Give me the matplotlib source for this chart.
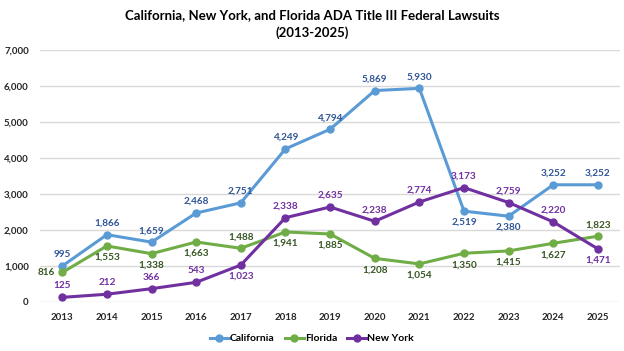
import matplotlib
matplotlib.use("Agg")
import matplotlib.pyplot as plt
from matplotlib.ticker import FuncFormatter

plt.rcParams['font.family'] = ['Lato', 'DejaVu Sans']
plt.rcParams['font.weight'] = 'bold'

years = list(range(2013, 2026))
california = [995, 1866, 1659, 2468, 2751, 4249, 4794, 5869, 5930, 2519, 2380, 3252, 3252]
florida = [816, 1553, 1338, 1663, 1488, 1941, 1885, 1208, 1054, 1350, 1415, 1627, 1823]
new_york = [125, 212, 366, 543, 1023, 2338, 2635, 2238, 2774, 3173, 2759, 2220, 1471]

# label placement per point (a = above, b = below, l = left)
ca_pos = list("aaaaaaaaabbaa")
fl_pos = list("lbbbabbbbbbba")
ny_pos = list("aaaabaaaaaaab")

series = [
    ("California", california, ca_pos, "#5B9BD5", "#2F5597"),
    ("Florida", florida, fl_pos, "#70AD47", "#375623"),
    ("New York", new_york, ny_pos, "#7030A0", "#7030A0"),
]

fig = plt.figure(figsize=(6.24, 3.51), dpi=100)
ax = fig.add_axes([0.064, 0.14, 0.93, 0.718])

x = list(range(len(years)))
for name, vals, pos, col, tcol in series:
    ax.plot(x, vals, color=col, lw=2.2, marker='o', ms=5, label=name, zorder=3)
    for xi, v, p in zip(x, vals, pos):
        if p == 'a':
            off, ha, va = (0, 5), 'center', 'bottom'
        elif p == 'b':
            off, ha, va = (0, -5), 'center', 'top'
        else:
            off, ha, va = (-5, 0), 'right', 'center'
        ax.annotate(f"{v:,}", (xi, v), xytext=off, textcoords='offset points',
                    ha=ha, va=va, fontsize=7.2, color=tcol, fontweight='bold')

ax.set_xlim(-0.5, len(years) - 0.5)
ax.set_ylim(0, 7000)
ax.set_yticks(range(0, 7001, 1000))
ax.yaxis.set_major_formatter(FuncFormatter(lambda v, _: f"{int(v):,}"))
ax.set_xticks(x)
ax.set_xticklabels([str(y) for y in years])
ax.tick_params(axis='both', length=0, labelsize=7, colors='#262626')
ax.tick_params(axis='x', pad=8)
ax.tick_params(axis='y', pad=8)
ax.grid(axis='y', color='#D9D9D9', lw=1)
ax.set_axisbelow(True)
for s in ax.spines.values():
    s.set_visible(False)

fig.suptitle("California, New York, and Florida ADA Title III Federal Lawsuits\n(2013-2025)",
             fontsize=9.5, fontweight='bold', y=0.975, linespacing=1.55)

fig.legend(loc='lower center', ncol=3, frameon=False, fontsize=7.5,
           bbox_to_anchor=(0.5, -0.005), handlelength=1.8, handletextpad=0.1,
           columnspacing=1.0)

fig.savefig("out.png", dpi=100, facecolor='white')
